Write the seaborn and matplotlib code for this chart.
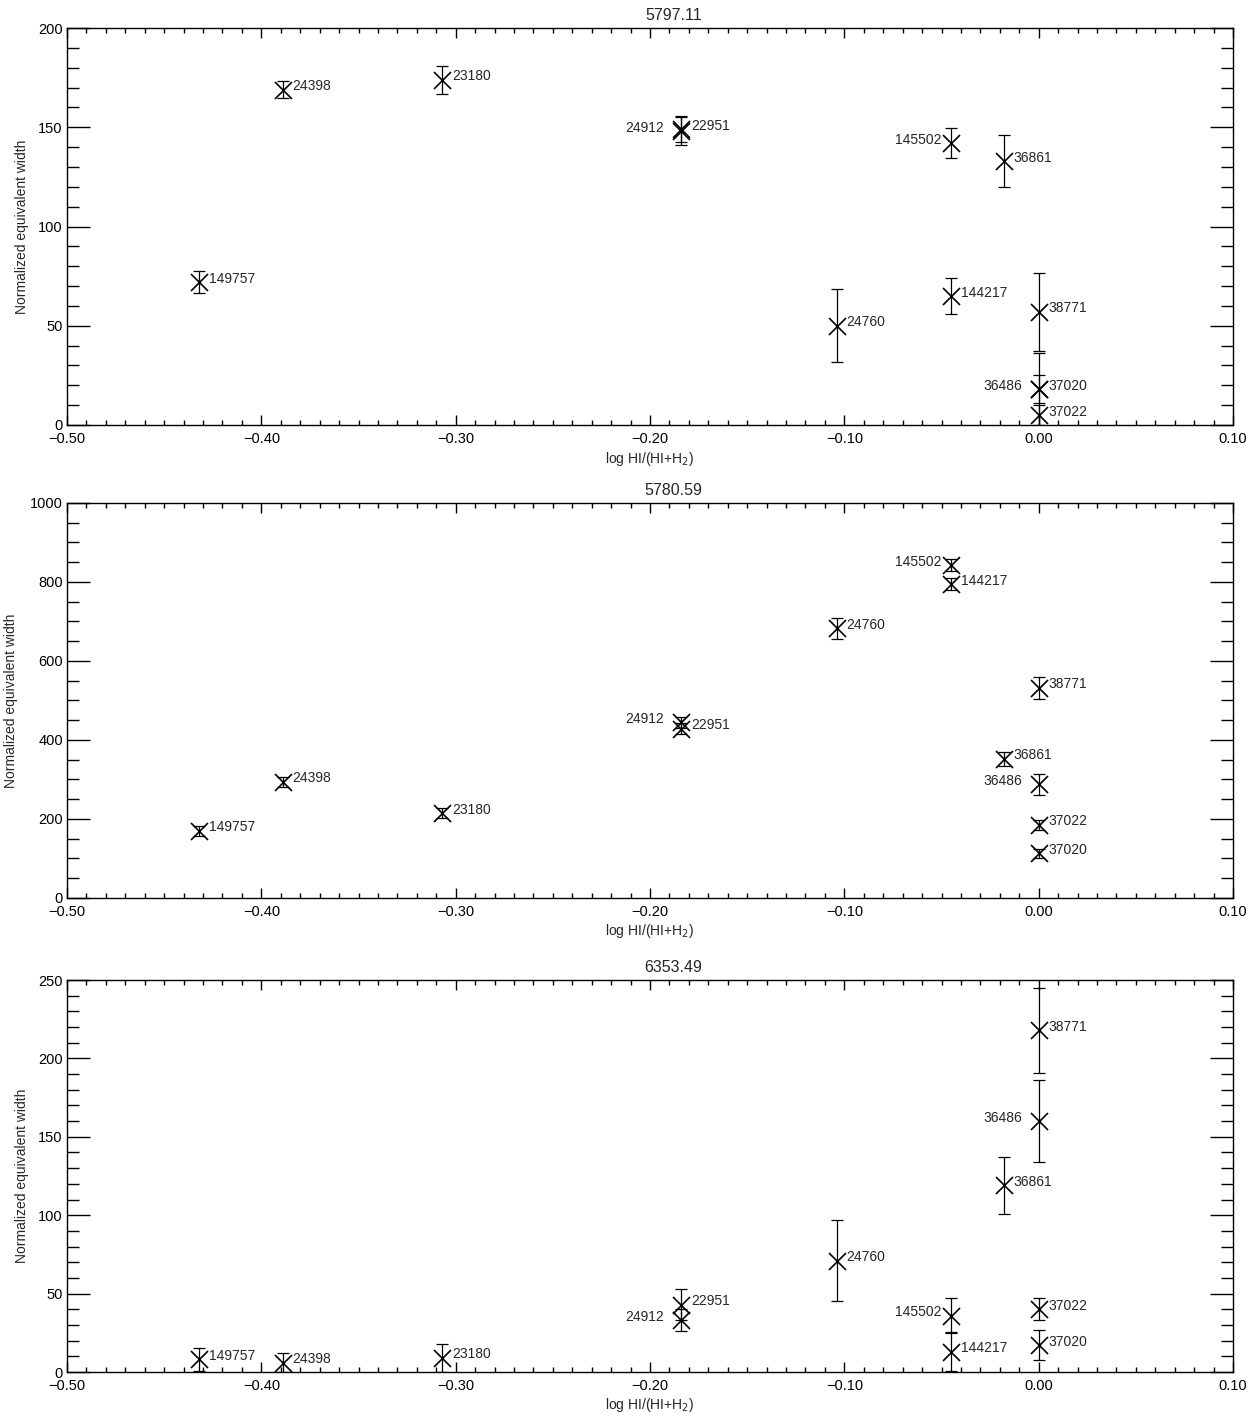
import numpy as np
import pandas as pd
import matplotlib
matplotlib.use('Agg')
import matplotlib.pyplot as plt
from matplotlib.ticker import MultipleLocator, FuncFormatter
import seaborn as sns

# estrelas (HD) e fração log HI/(HI+H2)
estrelas = ['149757', '24398', '23180', '24912', '22951', '24760', '145502',
            '144217', '36861', '38771', '36486', '37020', '37022']
log_frac = [-0.432, -0.389, -0.307, -0.184, -0.184, -0.104, -0.045,
            -0.045, -0.018, 0.0, 0.0, 0.0, 0.0]

# largura equivalente normalizada e erros de cada banda
ew_5797 = [72, 169, 174, 148, 149, 50, 142, 65, 133, 57, 18, 18, 5]
err_5797 = [5.5, 4.2, 7, 7, 6.5, 18.5, 7.5, 9, 13.3, 19.5, 18.5, 7, 5]

ew_5780 = [170, 294, 215, 445, 428, 683, 843, 795, 352, 532, 288, 113, 185]
err_5780 = [12, 12, 12, 14, 14, 27, 14, 15, 18, 28, 26, 12, 12]

ew_6353 = [8, 6, 9, 33, 43, 71, 36, 13, 119, 218, 160, 17, 40]
err_6353 = [7.5, 6, 9, 7, 10, 26, 11, 12.5, 18.4, 27, 26, 9.6, 7]

titulos = ['5797.11', '5780.59', '6353.49']
ylims = [200, 1000, 250]
y_major = [50, 200, 50]
y_minor = [10, 50, 10]

# rótulos que ficam à esquerda do ponto
esquerda = {'24912': 12, '145502': 7, '36486': 12}

sns.set_style('ticks')
plt.rcParams['font.family'] = ['Liberation Sans', 'DejaVu Sans']

fig = plt.figure(figsize=(12.52, 14.14), dpi=100)
W, H = 1252, 1414
left, right = 67, 1233
caixas = [(28, 425), (503, 898), (980, 1372)]
ylab_x = [-0.0330, -0.0420, -0.0330]

series = [(ew_5797, err_5797), (ew_5780, err_5780), (ew_6353, err_6353)]

fmt_x = FuncFormatter(lambda v, p: f'{v:.2f}'.replace('-', '\u2212'))

for i, (ew, err) in enumerate(series):
    top, bot = caixas[i]
    ax = fig.add_axes([left / W, 1 - bot / H, (right - left) / W, (bot - top) / H])
    df = pd.DataFrame({'star': estrelas, 'x': log_frac, 'y': ew, 'err': err})

    ax.errorbar(df['x'], df['y'], yerr=df['err'], fmt='none', ecolor='black',
                elinewidth=0.9, capsize=4.5, capthick=0.9, zorder=2)
    sns.scatterplot(data=df, x='x', y='y', marker='x', s=150, color='black',
                    linewidth=1.2, ax=ax, zorder=3, legend=False)

    for _, row in df.iterrows():
        if row['star'] in esquerda:
            ax.annotate(row['star'], (row['x'], row['y']),
                        xytext=(-esquerda[row['star']], 2.5), textcoords='offset points',
                        ha='right', va='center', fontsize=10)
        else:
            ax.annotate(row['star'], (row['x'], row['y']),
                        xytext=(7, 2.5), textcoords='offset points',
                        ha='left', va='center', fontsize=10)

    ax.set_xlim(-0.5, 0.1)
    ax.set_ylim(0, ylims[i])
    ax.xaxis.set_major_locator(MultipleLocator(0.1))
    ax.xaxis.set_minor_locator(MultipleLocator(0.01))
    ax.xaxis.set_major_formatter(fmt_x)
    ax.yaxis.set_major_locator(MultipleLocator(y_major[i]))
    ax.yaxis.set_minor_locator(MultipleLocator(y_minor[i]))

    ax.tick_params(axis='both', which='both', direction='in', top=True, right=True,
                   width=1, colors='black', labelsize=10.5)
    ax.tick_params(axis='x', which='major', length=7.2, pad=5)
    ax.tick_params(axis='x', which='minor', length=3.6)
    ax.tick_params(axis='y', which='major', length=16.5, pad=3)
    ax.tick_params(axis='y', which='minor', length=8.4)
    for sp in ax.spines.values():
        sp.set_linewidth(1)
        sp.set_color('black')

    ax.set_title(titulos[i], fontsize=11.5, pad=6, x=0.52)
    ax.set_xlabel('log HI/(HI+H$_2$)', fontsize=10)
    ax.set_ylabel('Normalized equivalent width', fontsize=10)
    ax.xaxis.set_label_coords(0.5, -0.062)
    ax.yaxis.set_label_coords(ylab_x[i], 0.5)
    ax.grid(False)

fig.savefig('out.png', dpi=100)
